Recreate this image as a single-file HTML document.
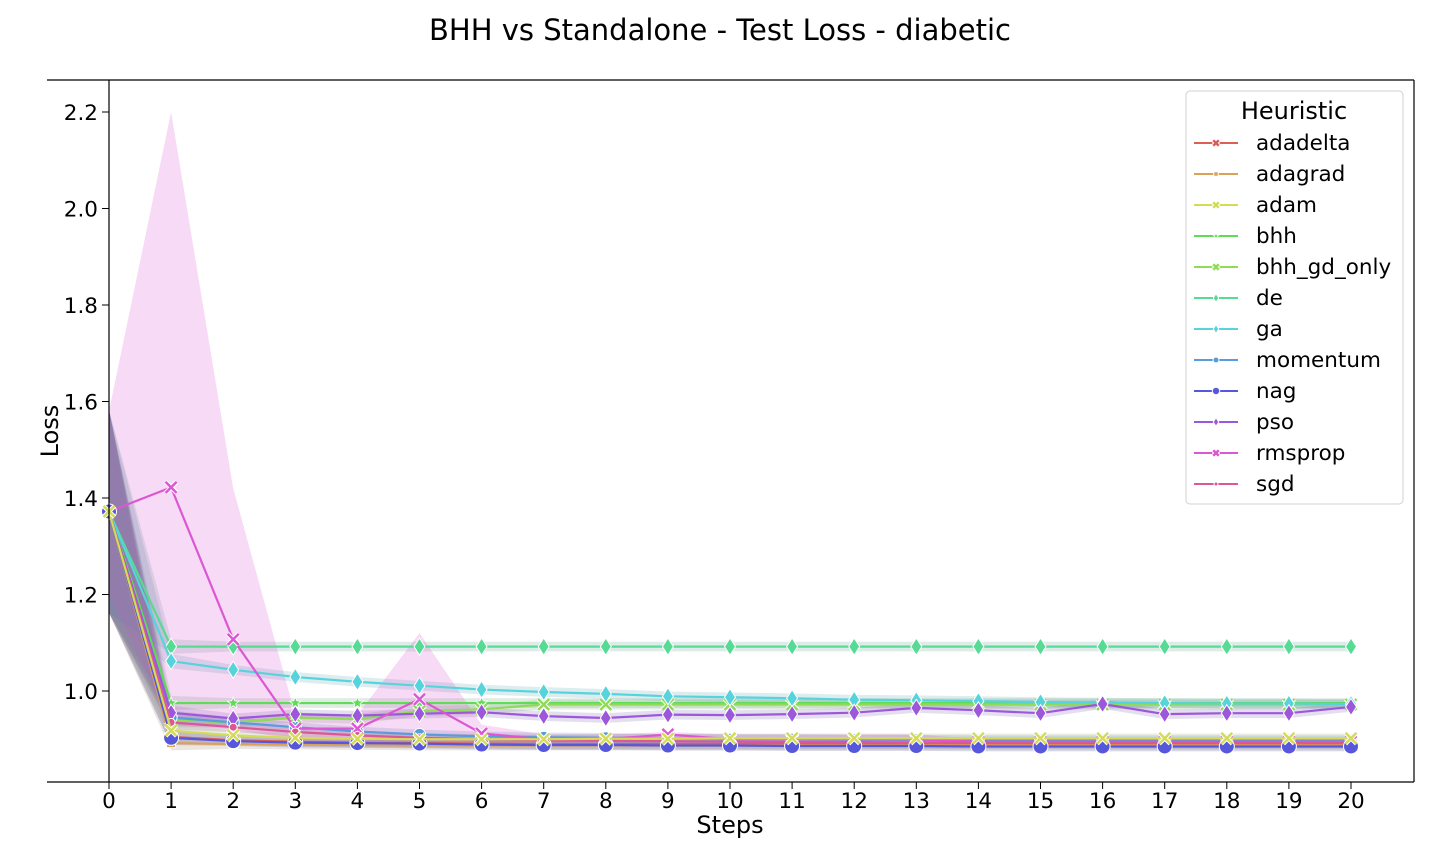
<!DOCTYPE html>
<html><head><meta charset="utf-8"><style>
body{margin:0;background:#fff;}
svg{display:block;font-family:"DejaVu Sans","Liberation Sans",sans-serif;}
</style></head><body>
<svg id="chart" width="1440" height="864" viewBox="0 0 1440 864">
<text x="720" y="40" font-size="29" text-anchor="middle">BHH vs Standalone - Test Loss - diabetic</text>
<g id="bands"></g>
<g id="lines"></g>
<g id="axes"></g>
<g id="legend"></g>
</svg>
<script>
const steps=[0,1,2,3,4,5,6,7,8,9,10,11,12,13,14,15,16,17,18,19,20];
const yTicks=[1.0,1.2,1.4,1.6,1.8,2.0,2.2];
const names=["adadelta","adagrad","adam","bhh","bhh_gd_only","de","ga","momentum","nag","pso","rmsprop","sgd"];
const colors=["#db5f57","#dba157","#d3db57","#5fdb57","#8fdb57","#57db94","#57d3db","#579cdb","#5757db","#9c57db","#db57d3","#db5797"];
const adadelta=[1.372,0.905,0.898,0.895,0.893,0.892,0.891,0.890,0.890,0.890,0.890,0.890,0.890,0.890,0.890,0.890,0.890,0.890,0.890,0.890,0.890];
const adagrad=[1.372,0.892,0.890,0.889,0.888,0.887,0.887,0.887,0.887,0.887,0.887,0.887,0.887,0.887,0.887,0.887,0.887,0.887,0.887,0.887,0.887];
const adam=[1.372,0.918,0.908,0.903,0.901,0.900,0.900,0.900,0.901,0.901,0.902,0.902,0.902,0.902,0.902,0.902,0.902,0.902,0.902,0.902,0.902];
const bhh=[1.372,0.975,0.975,0.975,0.975,0.975,0.975,0.975,0.975,0.975,0.975,0.975,0.975,0.975,0.975,0.975,0.975,0.975,0.975,0.975,0.975];
const bhhGd=[1.372,0.940,0.935,0.945,0.942,0.958,0.962,0.972,0.972,0.972,0.972,0.972,0.972,0.972,0.972,0.972,0.972,0.972,0.972,0.972,0.972];
const de=[1.372,1.092,1.092,1.092,1.092,1.092,1.092,1.092,1.092,1.092,1.092,1.092,1.092,1.092,1.092,1.092,1.092,1.092,1.092,1.092,1.092];
const ga=[1.372,1.062,1.044,1.029,1.019,1.011,1.003,0.998,0.994,0.989,0.987,0.985,0.982,0.981,0.979,0.977,0.976,0.975,0.974,0.974,0.973];
const momentum=[1.372,0.945,0.935,0.925,0.916,0.910,0.906,0.904,0.903,0.901,0.900,0.900,0.899,0.899,0.898,0.898,0.898,0.898,0.898,0.898,0.898];
const nag=[1.372,0.903,0.896,0.893,0.892,0.891,0.889,0.888,0.888,0.887,0.887,0.886,0.886,0.886,0.885,0.885,0.885,0.885,0.885,0.885,0.885];
const pso=[1.372,0.955,0.943,0.952,0.949,0.953,0.956,0.948,0.944,0.951,0.950,0.952,0.955,0.965,0.960,0.954,0.973,0.952,0.954,0.954,0.967];
const rmsprop=[1.372,1.422,1.107,0.922,0.922,0.983,0.912,0.900,0.900,0.910,0.900,0.900,0.900,0.900,0.895,0.895,0.895,0.895,0.895,0.895,0.895];
const sgd=[1.372,0.935,0.925,0.915,0.908,0.903,0.900,0.898,0.897,0.896,0.895,0.894,0.894,0.893,0.893,0.893,0.893,0.893,0.893,0.893,0.893];
const rmspropUpper=[1.58,2.20,1.42,0.95,0.95,1.12,0.93,0.91,0.91,0.915,0.91,0.91,0.91,0.91,0.90,0.90,0.90,0.90,0.90,0.90,0.90];
const rmspropLower=[1.20,0.93,0.92,0.90,0.89,0.89,0.89,0.89,0.89,0.89,0.89,0.89,0.89,0.89,0.89,0.89,0.89,0.89,0.89,0.89,0.89];
const spread=[0.21,0.015,0.01,0.01,0.01,0.01,0.01,0.01,0.01,0.01,0.01,0.01,0.01,0.01,0.01,0.01,0.01,0.01,0.01,0.01,0.01];
const series=[adadelta,adagrad,adam,bhh,bhhGd,de,ga,momentum,nag,pso,rmsprop,sgd];
const markers=["x","s","x","star","x","d","d","o","O","d","x","p"];
const drawOrder=[0,1,3,4,5,6,7,9,10,11,8,2];

const X=v=>109+v*62.1;
const Y=v=>691-(v-1)*482.5;
const NS="http://www.w3.org/2000/svg";
function mk(tag,parent,attrs){const e=document.createElementNS(NS,tag);for(const k in attrs)e.setAttribute(k,attrs[k]);parent.appendChild(e);return e;}
const gB=document.getElementById('bands'),gL=document.getElementById('lines'),gA=document.getElementById('axes'),gG=document.getElementById('legend');

series.forEach((s,i)=>{
  let up,lo;
  if(names[i]==="rmsprop"){up=rmspropUpper;lo=rmspropLower;}
  else{up=s.map((v,j)=>v+spread[j]);lo=s.map((v,j)=>v-spread[j]);}
  let d="M"+steps.map((t,j)=>X(t)+","+Y(up[j])).join("L")+"L"+steps.slice().reverse().map((t,k)=>{const j=steps.length-1-k;return X(t)+","+Y(lo[j]);}).join("L")+"Z";
  const p=mk('path',gB,{d:d,fill:names[i]==="rmsprop"?colors[i]:'#6a7e90','fill-opacity':names[i]==="rmsprop"?0.22:0.12});
  
  
  if(names[i]!=="rmsprop"){
    const p2=mk('path',gB,{d:d,fill:colors[i],'fill-opacity':0.1});
    
    
  }
});
function marker(g,type,x,y,c,sc){
  sc=sc||1;
  if(type==="o"||type==="O"||type==="p"){const r=(type==="O"?7.5:type==="p"?4:6)*sc;mk('circle',g,{cx:x,cy:y,r:r,fill:c,stroke:'#fff','stroke-width':1});}
  else if(type==="d"){const w=5.5*sc,h=8.5*sc;mk('path',g,{d:`M${x},${y-h}L${x+w},${y}L${x},${y+h}L${x-w},${y}Z`,fill:c,stroke:'#fff','stroke-width':1});}
  else if(type==="s"){const w=4.5*sc;mk('rect',g,{x:x-w,y:y-w,width:2*w,height:2*w,fill:c,stroke:'#fff','stroke-width':1});}
  else if(type==="star"){const r=6*sc;let pts=[];for(let k=0;k<10;k++){const a=-Math.PI/2+k*Math.PI/5,rr=k%2?r*0.45:r;pts.push((x+rr*Math.cos(a))+","+(y+rr*Math.sin(a)));}mk('polygon',g,{points:pts.join(" "),fill:c,stroke:'#fff','stroke-width':0.8});}
  else {const r=5.5*sc;mk('path',g,{d:`M${x-r},${y-r}L${x+r},${y+r}M${x-r},${y+r}L${x+r},${y-r}`,stroke:'#fff','stroke-width':4.5});mk('path',g,{d:`M${x-r},${y-r}L${x+r},${y+r}M${x-r},${y+r}L${x+r},${y-r}`,stroke:c,'stroke-width':2.5});}
}
drawOrder.forEach(i=>{
  const s=series[i];
  const g=mk('g',gL,{});
  
  
  mk('polyline',g,{points:steps.map((t,j)=>X(t)+","+Y(s[j])).join(" "),fill:'none',stroke:colors[i],'stroke-width':2.2});
  steps.forEach((t,j)=>marker(g,markers[i],X(t),Y(s[j]),colors[i]));
});
mk('line',gA,{x1:47,y1:80,x2:1414,y2:80,stroke:'#000','stroke-width':1.2});
mk('line',gA,{x1:1414,y1:80,x2:1414,y2:782,stroke:'#000','stroke-width':1.2});
mk('line',gA,{x1:47,y1:782,x2:1414,y2:782,stroke:'#000','stroke-width':1.2});
mk('line',gA,{x1:109,y1:80,x2:109,y2:782,stroke:'#000','stroke-width':1.2});
steps.forEach(t=>{
  mk('line',gA,{x1:X(t),y1:782,x2:X(t),y2:789,stroke:'#000'});
  const tx=mk('text',gA,{x:X(t),y:808,'font-size':21.5,'text-anchor':'middle'});tx.textContent=t;
  
  
});
yTicks.forEach(v=>{
  mk('line',gA,{x1:102,y1:Y(v),x2:109,y2:Y(v),stroke:'#000'});
  const tx=mk('text',gA,{x:98,y:Y(v)+8,'font-size':21.5,'text-anchor':'end'});tx.textContent=v.toFixed(1);
  
  
});
const xl=mk('text',gA,{x:730,y:833,'font-size':24,'text-anchor':'middle'});xl.textContent="Steps";


const yl=mk('text',gA,{x:58,y:431,'font-size':24,'text-anchor':'middle',transform:'rotate(-90 58 431)'});yl.textContent="Loss";


mk('rect',gG,{x:1186,y:91,width:217,height:413,rx:4,fill:'#fff','fill-opacity':0.85,stroke:'#d0d0d0'});
const lt=mk('text',gG,{x:1294,y:119,'font-size':24,'text-anchor':'middle'});lt.textContent="Heuristic";


names.forEach((n,i)=>{
  const y=143+31*i;
  const g=mk('g',gG,{});
  
  
  mk('line',g,{x1:1194,y1:y,x2:1238,y2:y,stroke:colors[i],'stroke-width':2});
  marker(g,markers[i],1216,y,colors[i],0.5);
  const t=mk('text',g,{x:1256,y:y+7,'font-size':21.5});t.textContent=n;
});
</script>
</body></html>
